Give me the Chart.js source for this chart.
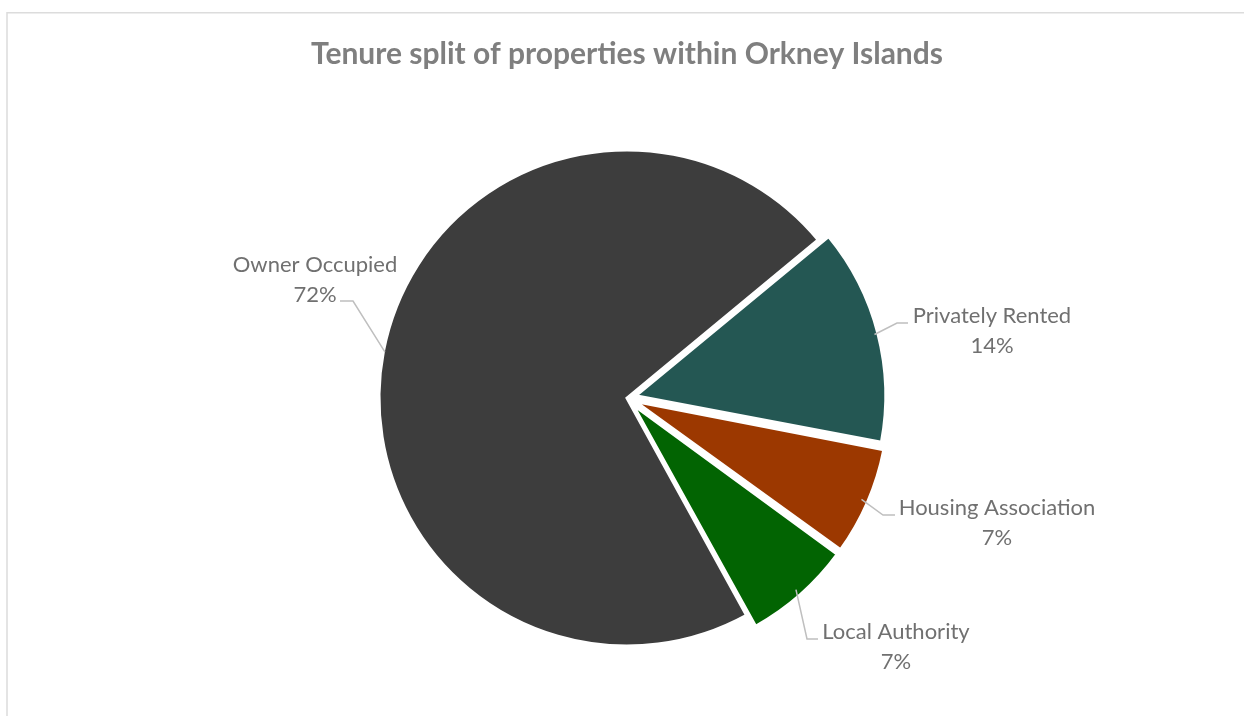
<!DOCTYPE html>
<html>
<head>
<meta charset="utf-8">
<script src="https://cdn.jsdelivr.net/npm/chart.js@4/dist/chart.umd.min.js"></script>
<style>
  html, body { margin: 0; padding: 0; background: #ffffff; }
  canvas { display: block; }
</style>
</head>
<body>
<canvas id="tenure" width="1244" height="716"></canvas>
<script>
// Tenure split (percent of properties)
const categories = ['Owner Occupied', 'Privately Rented', 'Housing Association', 'Local Authority'];
const shares = [72, 14, 7, 7];
const sliceColours = ['#3d3d3d', '#245753', '#9c3800', '#026402'];
// Chart.js v4 moves an arc by a quarter of its offset option
const sliceOffsets = [0, 36, 36, 36];

// Label placement relative to the pie centre: text centre x, first baseline y,
// elbow of the leader line, and which way the short horizontal run points.
const labelLayout = [
  { tx: -312, ty: -126, ex: -274, ey: -97, run: -13 },
  { tx: 365,  ty: -75,  ex: 270,  ey: -75, run: 11 },
  { tx: 370,  ty: 117,  ex: 256,  ey: 117, run: 12 },
  { tx: 269,  ty: 241,  ex: 180,  ey: 241, run: 11 }
];

const frame = {
  id: 'frame',
  beforeDraw(chart) {
    const ctx = chart.ctx;
    ctx.save();
    ctx.strokeStyle = '#dcdcdc';
    ctx.lineWidth = 1.5;
    ctx.strokeRect(7, 12.75, chart.width + 20, chart.height + 20);
    ctx.restore();
  }
};

const outsideLabels = {
  id: 'outsideLabels',
  afterDatasetsDraw(chart) {
    const ctx = chart.ctx;
    const meta = chart.getDatasetMeta(0);
    ctx.save();
    meta.data.forEach((arc, i) => {
      const p = arc.getProps(['x', 'y', 'startAngle', 'endAngle', 'outerRadius'], true);
      const shift = (arc.options.offset || 0) / 4;
      const mid = (p.startAngle + p.endAngle) / 2;
      const r = p.outerRadius + shift - 1.5;
      const sx = p.x + Math.cos(mid) * r;
      const sy = p.y + Math.sin(mid) * r;
      const L = labelLayout[i];
      const ex = p.x + L.ex, ey = p.y + L.ey;

      ctx.strokeStyle = '#bfbfbf';
      ctx.lineWidth = 1.5;
      ctx.beginPath();
      ctx.moveTo(sx, sy);
      ctx.lineTo(ex, ey);
      ctx.lineTo(ex + L.run, ey);
      ctx.stroke();

      ctx.fillStyle = '#707070';
      ctx.font = '22px Lato, "Open Sans", sans-serif';
      ctx.textAlign = 'center';
      ctx.textBaseline = 'alphabetic';
      ctx.fillText(chart.data.labels[i], p.x + L.tx, p.y + L.ty);
      ctx.fillText(chart.data.datasets[0].data[i] + '%', p.x + L.tx, p.y + L.ty + 29.5);
    });
    ctx.restore();
  }
};

new Chart(document.getElementById('tenure'), {
  type: 'pie',
  data: {
    labels: categories,
    datasets: [{
      data: shares,
      backgroundColor: sliceColours,
      borderColor: '#ffffff',
      borderWidth: 3,
      borderJoinStyle: 'miter',
      offset: sliceOffsets,
      radius: 248
    }]
  },
  options: {
    responsive: false,
    devicePixelRatio: 1,
    animation: false,
    rotation: 151.2,
    layout: { padding: { left: 10, right: 0, top: 0, bottom: 8.4 } },
    plugins: {
      legend: { display: false },
      tooltip: { enabled: false },
      title: {
        display: true,
        text: 'Tenure split of properties within Orkney Islands',
        color: '#7f7f7f',
        font: { family: 'Lato, "Open Sans", sans-serif', size: 30, weight: 'bold' },
        padding: { top: 36, bottom: 16.4 }
      }
    }
  },
  plugins: [frame, outsideLabels]
});
</script>
</body>
</html>
